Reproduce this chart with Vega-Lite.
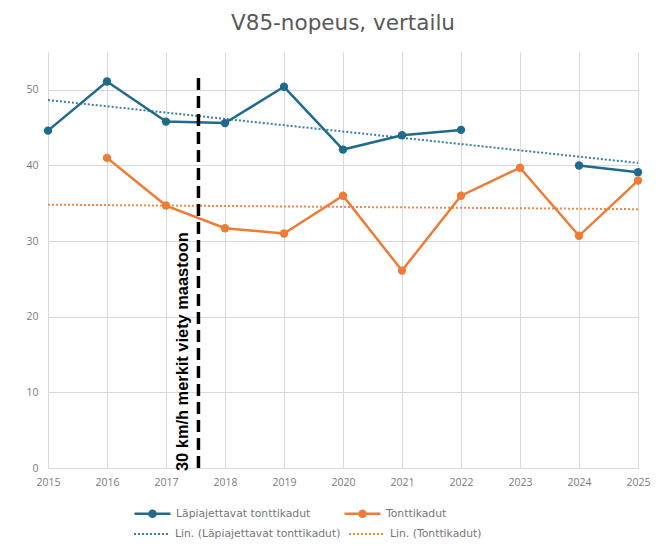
{
  "$schema": "https://vega.github.io/schema/vega-lite/v6.json",
  "width": 590,
  "height": 416,
  "autosize": {"type": "none"},
  "padding": {"left": 48, "top": 52, "right": 28, "bottom": 78},
  "background": "white",
  "title": {"text": "V85-nopeus, vertailu", "fontSize": 21.5, "font": "DejaVu Sans", "fontWeight": "normal", "color": "#595959", "offset": 18, "anchor": "middle"},
  "config": {"view": {"stroke": null}, "font": "Open Sans"},
  "datasets": {
    "speeds": [
      {"year": 2015, "series": "Läpiajettavat tonttikadut", "trend": "Lin. (Läpiajettavat tonttikadut)", "value": 44.6},
      {"year": 2016, "series": "Läpiajettavat tonttikadut", "trend": "Lin. (Läpiajettavat tonttikadut)", "value": 51.1},
      {"year": 2017, "series": "Läpiajettavat tonttikadut", "trend": "Lin. (Läpiajettavat tonttikadut)", "value": 45.8},
      {"year": 2018, "series": "Läpiajettavat tonttikadut", "trend": "Lin. (Läpiajettavat tonttikadut)", "value": 45.6},
      {"year": 2019, "series": "Läpiajettavat tonttikadut", "trend": "Lin. (Läpiajettavat tonttikadut)", "value": 50.4},
      {"year": 2020, "series": "Läpiajettavat tonttikadut", "trend": "Lin. (Läpiajettavat tonttikadut)", "value": 42.1},
      {"year": 2021, "series": "Läpiajettavat tonttikadut", "trend": "Lin. (Läpiajettavat tonttikadut)", "value": 44.0},
      {"year": 2022, "series": "Läpiajettavat tonttikadut", "trend": "Lin. (Läpiajettavat tonttikadut)", "value": 44.7},
      {"year": 2023, "series": "Läpiajettavat tonttikadut", "trend": "Lin. (Läpiajettavat tonttikadut)", "value": null},
      {"year": 2024, "series": "Läpiajettavat tonttikadut", "trend": "Lin. (Läpiajettavat tonttikadut)", "value": 40.0},
      {"year": 2025, "series": "Läpiajettavat tonttikadut", "trend": "Lin. (Läpiajettavat tonttikadut)", "value": 39.1},
      {"year": 2016, "series": "Tonttikadut", "trend": "Lin. (Tonttikadut)", "value": 41.0},
      {"year": 2017, "series": "Tonttikadut", "trend": "Lin. (Tonttikadut)", "value": 34.7},
      {"year": 2018, "series": "Tonttikadut", "trend": "Lin. (Tonttikadut)", "value": 31.7},
      {"year": 2019, "series": "Tonttikadut", "trend": "Lin. (Tonttikadut)", "value": 31.0},
      {"year": 2020, "series": "Tonttikadut", "trend": "Lin. (Tonttikadut)", "value": 36.0},
      {"year": 2021, "series": "Tonttikadut", "trend": "Lin. (Tonttikadut)", "value": 26.1},
      {"year": 2022, "series": "Tonttikadut", "trend": "Lin. (Tonttikadut)", "value": 36.0},
      {"year": 2023, "series": "Tonttikadut", "trend": "Lin. (Tonttikadut)", "value": 39.7},
      {"year": 2024, "series": "Tonttikadut", "trend": "Lin. (Tonttikadut)", "value": 30.7},
      {"year": 2025, "series": "Tonttikadut", "trend": "Lin. (Tonttikadut)", "value": 38.0}
    ],
    "marker": [
      {"year": 2017.55, "from": 0, "to": 52.2, "label": "30 km/h merkit viety maastoon"}
    ]
  },
  "encoding": {
    "x": {
      "field": "year", "type": "quantitative",
      "scale": {"domain": [2015, 2025], "nice": false, "zero": false},
      "axis": {"title": null, "values": [2015, 2016, 2017, 2018, 2019, 2020, 2021, 2022, 2023, 2024, 2025], "format": "d", "labelFlush": false, "labelFontSize": 10.5, "labelColor": "#7a7a7a", "labelPadding": 9, "grid": true, "gridColor": "#d9d9d9", "domain": false, "ticks": false}
    }
  },
  "layer": [
    {
      "data": {"name": "speeds"},
      "transform": [{"regression": "value", "on": "year", "groupby": ["trend"], "extent": [2015, 2025]}],
      "mark": {"type": "line", "strokeDash": [2, 2], "strokeWidth": 2},
      "encoding": {
        "y": {
          "field": "value", "type": "quantitative",
          "scale": {"domain": [0, 55], "nice": false},
          "axis": {"title": null, "values": [0, 10, 20, 30, 40, 50], "labelFontSize": 10.5, "labelColor": "#7a7a7a", "labelPadding": 10, "grid": true, "gridColor": "#d9d9d9", "domain": false, "ticks": false}
        },
        "color": {
          "field": "trend", "type": "nominal",
          "scale": {"domain": ["Lin. (Läpiajettavat tonttikadut)", "Lin. (Tonttikadut)"], "range": ["#3a7fa8", "#f08a4b"]},
          "legend": {
            "title": null, "orient": "none", "legendX": 85, "legendY": 463, "direction": "horizontal", "columnPadding": 4, "labelLimit": 300,
            "labelFont": "DejaVu Sans", "labelFontSize": 10.8, "labelColor": "#767676", "symbolType": "M-1,0H1", "symbolSize": 1296, "symbolStrokeWidth": 2, "symbolDash": [2, 2], "labelOffset": 4
          }
        }
      }
    },
    {
      "data": {"name": "speeds"},
      "encoding": {
        "y": {"field": "value", "type": "quantitative"},
        "color": {
          "field": "series", "type": "nominal",
          "scale": {"domain": ["Läpiajettavat tonttikadut", "Tonttikadut"], "range": ["#1f6a8d", "#ee7b36"]},
          "legend": {
            "title": null, "orient": "none", "legendX": 85, "legendY": 442, "direction": "horizontal", "columnPadding": 28, "labelLimit": 300,
            "labelFont": "DejaVu Sans", "labelFontSize": 10.8, "labelColor": "#767676", "symbolType": "M-1,0H1M0.17,0A0.17,0.17,0,1,1,-0.17,0A0.17,0.17,0,1,1,0.17,0Z", "symbolSize": 1296, "symbolStrokeWidth": 2.5, "labelOffset": 4
          }
        }
      },
      "layer": [
        {"mark": {"type": "line", "strokeWidth": 2.5, "invalid": "break-paths-show-domains"}},
        {"mark": {"type": "point", "filled": true, "size": 70, "opacity": 1}}
      ]
    },
    {
      "data": {"name": "marker"},
      "mark": {"type": "rule", "color": "black", "strokeWidth": 3.5, "strokeDash": [12, 6]},
      "encoding": {
        "y": {"field": "from", "type": "quantitative"},
        "y2": {"field": "to"}
      }
    },
    {
      "data": {"name": "marker"},
      "mark": {"type": "text", "angle": 270, "align": "left", "baseline": "middle", "dy": -15, "dx": -3, "font": "Liberation Sans", "fontWeight": "bold", "fontSize": 16.4, "color": "black"},
      "encoding": {
        "y": {"field": "from", "type": "quantitative"},
        "text": {"field": "label"}
      }
    }
  ],
  "resolve": {"scale": {"color": "independent"}}
}
